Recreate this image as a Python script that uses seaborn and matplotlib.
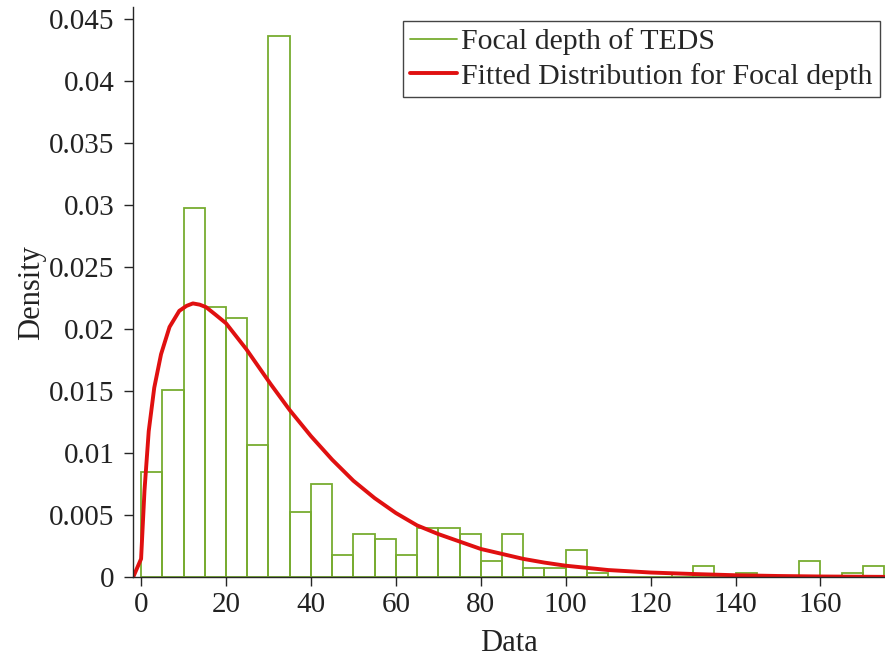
import numpy as np
import pandas as pd
import matplotlib
matplotlib.use("Agg")
import matplotlib.pyplot as plt
from matplotlib.lines import Line2D
from matplotlib.ticker import FixedLocator, FuncFormatter
import seaborn as sns

# ---- data ----
bin_edges = list(range(0, 180, 5))  # 0..175
bin_heights = [0.0085, 0.0151, 0.0298, 0.0218, 0.0209, 0.0107, 0.0437, 0.0053,
               0.0075, 0.0018, 0.0035, 0.0031, 0.0018, 0.0040, 0.0040, 0.0035,
               0.0013, 0.0035, 0.0008, 0.0008, 0.0022, 0.0004, 0.0, 0.0,
               0.0, 0.0004, 0.0009, 0.0, 0.0004, 0.0, 0.0, 0.0013,
               0.0, 0.0004, 0.0009]
fit_x = [-1.9, 0.0, 0.8, 1.8, 3.1, 4.7, 6.7, 9.0, 10.7, 12.2, 13.8, 15.3, 17.5,
         20.0, 24.8, 30.5, 35.0, 40.0, 45.0, 50.0, 55.0, 60.0, 65.0, 70.0, 75.0,
         80.0, 85.0, 90.0, 95.0, 100.0, 110.0, 120.0, 130.0, 140.0, 150.0,
         160.0, 175.0]
fit_y = [0.0, 0.0015, 0.0070, 0.0118, 0.0153, 0.0180, 0.0202, 0.0215, 0.0219,
         0.0221, 0.0220, 0.0218, 0.0212, 0.0205, 0.0184, 0.0156, 0.0135, 0.0114,
         0.0095, 0.0078, 0.0064, 0.0052, 0.0042, 0.0035, 0.0029, 0.0023, 0.0019,
         0.0015, 0.0012, 0.00095, 0.0006, 0.0004, 0.00028, 0.00018, 0.00012,
         0.00008, 0.00005]
x_ticks = [0, 20, 40, 60, 80, 100, 120, 140, 160]
y_ticks = [0, 0.005, 0.01, 0.015, 0.02, 0.025, 0.03, 0.035, 0.04, 0.045]
legend_labels = ["Focal depth of TEDS", "Fitted Distribution for Focal depth"]

green = "#77AC30"
red = "#E01010"

sns.set_theme(style="ticks")
plt.rcParams["font.family"] = ["Liberation Serif", "DejaVu Serif"]

fig = plt.figure(figsize=(8.85, 6.69), dpi=100)
ax = fig.add_axes([0.1503, 0.1368, 0.8497, 0.8527])

centers = [e + 2.5 for e in bin_edges[:-1]]
hist_df = pd.DataFrame({"depth": centers, "w": bin_heights})
sns.histplot(data=hist_df, x="depth", weights="w", bins=bin_edges, stat="count",
             fill=False, element="bars", color=green, linewidth=1.3,
             ax=ax, legend=False)

fit_df = pd.DataFrame({"x": fit_x, "y": fit_y})
sns.lineplot(data=fit_df, x="x", y="y", color=red, linewidth=2.8, ax=ax,
             legend=False, sort=False)

ax.set_xlim(-1.9, 175.2)
ax.set_ylim(0, 0.046)
ax.xaxis.set_major_locator(FixedLocator(x_ticks))
ax.yaxis.set_major_locator(FixedLocator(y_ticks))
ax.yaxis.set_major_formatter(FuncFormatter(lambda v, p: "%g" % round(v, 4)))
ax.xaxis.set_major_formatter(FuncFormatter(lambda v, p: "%g" % v))

for s in ["top", "right"]:
    ax.spines[s].set_visible(False)
for s in ["left", "bottom"]:
    ax.spines[s].set_color("#262626")
    ax.spines[s].set_linewidth(1.0)
ax.tick_params(axis="both", direction="out", length=6.5, width=1.0,
               color="#262626", labelsize=21, labelcolor="#222222")
ax.tick_params(axis="y", pad=7)
ax.tick_params(axis="x", pad=4)

ax.set_xlabel("Data", fontsize=22, color="#222222", labelpad=8)
ax.set_ylabel("Density", fontsize=22, color="#222222", labelpad=2)

handles = [Line2D([0], [0], color=green, linewidth=1.3),
           Line2D([0], [0], color=red, linewidth=2.8)]
leg = ax.legend(handles, legend_labels, loc="upper right",
                bbox_to_anchor=(0.9934, 0.976), borderaxespad=0,
                fontsize=21.5, frameon=True, fancybox=False, framealpha=1,
                edgecolor="#444444", handlelength=1.55, handletextpad=0.15,
                borderpad=0.25, labelspacing=0.25)
leg.get_frame().set_linewidth(1.0)

fig.savefig("out.png", dpi=100)
